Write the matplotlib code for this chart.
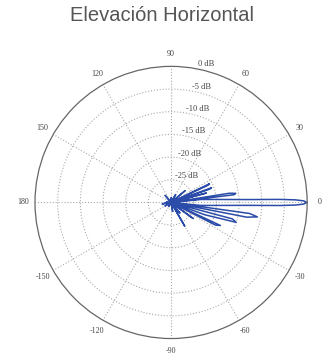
import numpy as np
import matplotlib
matplotlib.use("Agg")
import matplotlib.pyplot as plt

angles_deg = [-180, -170, -160, -150, -140, -120, -100, -80, -70, -60, -56, -50, -45,
              -36, -32, -27, -25, -23, -20, -17, -15, -13, -11, -9.5, -8, -7,
              -5.7, -3.4, -2.1, -1.6, -1.2, -0.7, 0, 0.7, 1.2, 1.6, 2.1, 3.4, 5.7,
              6.5, 7, 8, 9, 10, 13, 15, 17,
              19, 20, 21, 24, 25, 26, 28, 35, 40, 42, 60, 75, 90, 110, 130, 150,
              170, 180]
level_db = [-29, -28, -30, -28.5, -30, -29, -30, -28, -30, -24, -30, -27, -30,
            -24, -30, -19, -18, -30, -22, -15, -16, -30, -13, -10.7, -12.5, -30,
            -23.4, -19, -12.5, -5.9, -2.6, -0.8, 0, -0.8, -2.6, -5.9, -12.5, -19, -23.4,
            -30, -16, -15.6, -17, -30, -30, -22, -30,
            -21, -20.5, -30, -30, -21, -20.6, -30, -30, -26, -30, -28, -30, -29, -30, -28, -30,
            -29, -29]

ring_db = [-25, -20, -15, -10, -5, 0]
theta_ticks = list(range(0, 360, 30))
theta_labels = ["0", "30", "60", "90", "120", "150", "180",
                "-150", "-120", "-90", "-60", "-30"]

fig = plt.figure(figsize=(3.24, 3.64), dpi=100)
fig.text(0.5, 0.957, "Elevación Horizontal", ha="center", va="center",
         fontsize=14.5, color="#555555", family="Liberation Sans")

ax = fig.add_axes([0.108, 0.0673, 0.84, 0.753], projection="polar")
ax.plot(np.deg2rad(angles_deg), level_db, color="#2b4ca8", linewidth=1.1)
ax.set_ylim(-30, 0)

ax.set_xticks(np.deg2rad(theta_ticks))
ax.set_xticklabels([])
ax.set_yticks(ring_db[:-1])
ax.set_yticklabels([])
ax.grid(True, color="#aaaaaa", linestyle=":", linewidth=0.8)
ax.spines["polar"].set_color("#666666")
ax.spines["polar"].set_linewidth(0.9)

# angle labels just outside the outer ring
for t, lab in zip(theta_ticks, theta_labels):
    ax.text(np.deg2rad(t), 2.7, lab, ha="center", va="center", clip_on=False,
            fontsize=5.8, family="Liberation Serif", color="#444444")

for r in ring_db:
    ax.annotate(f"{r} dB", xy=(np.deg2rad(80), r), xytext=(8, 3),
                textcoords="offset points", ha="center", va="center",
                fontsize=6, family="Liberation Serif", color="#444444")

fig.savefig("out.png", dpi=100)
